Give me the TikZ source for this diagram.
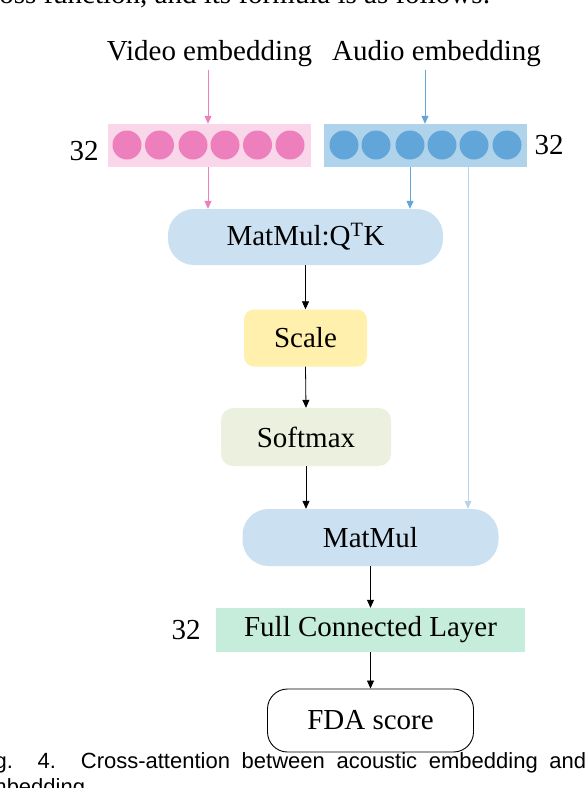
\documentclass[tikz,border=0pt]{standalone}
\usepackage{fontspec}
\setmainfont{Liberation Serif}
\newfontfamily\capfont{Liberation Sans}
\usetikzlibrary{arrows.meta}
\definecolor{pinkfill}{HTML}{F9D6EA}
\definecolor{pinkdot}{HTML}{EE7FBD}
\definecolor{bluefill}{HTML}{B0D3EC}
\definecolor{bluedot}{HTML}{62A6D9}
\definecolor{bluelight}{HTML}{B8D4EA}
\definecolor{mmfill}{HTML}{CBE1F2}
\definecolor{scalefill}{HTML}{FFF0AD}
\definecolor{softfill}{HTML}{EBF1DE}
\definecolor{fcfill}{HTML}{C6EDDB}
\tikzset{
  txt/.style={font=\fontsize{29}{32}\selectfont, inner sep=0pt},
  dot/.style={circle, minimum size=29pt, inner sep=0pt},
  arr/.style={-{Triangle[length=8pt,width=7pt]}, line width=0.8pt},
}
\begin{document}
\begin{tikzpicture}[x=1pt,y=-1pt]
\useasboundingbox (0,0) rectangle (588,788);
\begin{scope}
\clip (0,0) rectangle (588,788);
% surrounding page text (cropped, as in the reference)
\node[txt, anchor=base west] (toptext) at (-9,3) {loss function, and its formula is as follows:};
\node[anchor=base west, inner sep=0pt, font=\capfont\fontsize{22}{24}\selectfont] (cap1) at (-24,768)
  {\makebox[610pt][s]{Fig. 4. Cross-attention between acoustic embedding and}};
\node[anchor=base west, inner sep=0pt, font=\capfont\fontsize{22}{24}\selectfont] (cap2) at (-24,794) {embedding.};

% labels
\node[txt, anchor=base] (vlab) at (209.5,60) {Video embedding};
\node[txt, anchor=base] (alab) at (436.5,60) {Audio embedding};
\coordinate (vs) at (208,70);
\coordinate (as) at (425,70);

% embedding boxes
\node[fill=pinkfill, minimum width=203pt, minimum height=43pt, inner sep=0pt] (pbox) at (209.5,145.5) {};
\node[fill=bluefill, minimum width=203pt, minimum height=43pt, inner sep=0pt] (bbox) at (425.5,145.5) {};
\foreach \x [count=\i] in {127,159.5,193,225,257.5,290}
  \node[dot, fill=pinkdot] (p\i) at (\x,145) {};
\foreach \x [count=\i] in {344,376,410,442,474,507}
  \node[dot, fill=bluedot] (b\i) at (\x,145) {};
\node[txt] (n32a) at (84,151) {32};
\node[txt] (n32b) at (549,145) {32};

% process boxes
\node[fill=mmfill, rounded corners=26pt, minimum width=275pt, minimum height=56pt, txt] (mm1) at (305.5,237) {MatMul:Q\textsuperscript{T}K};
\node[fill=scalefill, rounded corners=10pt, minimum width=123pt, minimum height=57pt, txt] (scale) at (305.5,338) {Scale};
\node[fill=softfill, rounded corners=12pt, minimum width=170pt, minimum height=58pt, txt] (soft) at (306,437) {Softmax};
\node[fill=mmfill, rounded corners=26pt, minimum width=256pt, minimum height=57pt, txt] (mm2) at (370.5,537.5) {MatMul};
\node[fill=fcfill, minimum width=309pt, minimum height=44pt, txt] (fcl) at (370.5,630) {Full Connected Layer};
\node[txt] (n32c) at (186,630) {32};
\node[draw=black, line width=0.9pt, rounded corners=20pt, minimum width=206pt, minimum height=63pt, txt] (fda) at (370.5,720.5) {FDA score};

% connectors
\draw[arr, pinkdot] (vs) -- (vs |- pbox.north);
\draw[arr, bluedot] (as) -- (as |- bbox.north);
\draw[arr, pinkdot] (vs |- pbox.south) -- (vs |- mm1.north);
\draw[arr, bluedot] (b3 |- bbox.south) -- (b3 |- mm1.north);
\coordinate (vl) at (468,0);
\draw[-{Triangle[length=8pt,width=7pt]}, draw=bluelight, fill=bluedot, line width=0.7pt] (vl |- bbox.south) -- (vl |- mm2.north);
\draw[arr] (mm1.south) -- (scale.north);
\draw[arr] (scale.south) -- (soft.north);
\draw[arr] (soft.south) -- (soft.south |- mm2.north);
\draw[arr] (mm2.south) -- (fcl.north);
\draw[arr] (fcl.south) -- (fda.north);
\end{scope}
\end{tikzpicture}
\end{document}
